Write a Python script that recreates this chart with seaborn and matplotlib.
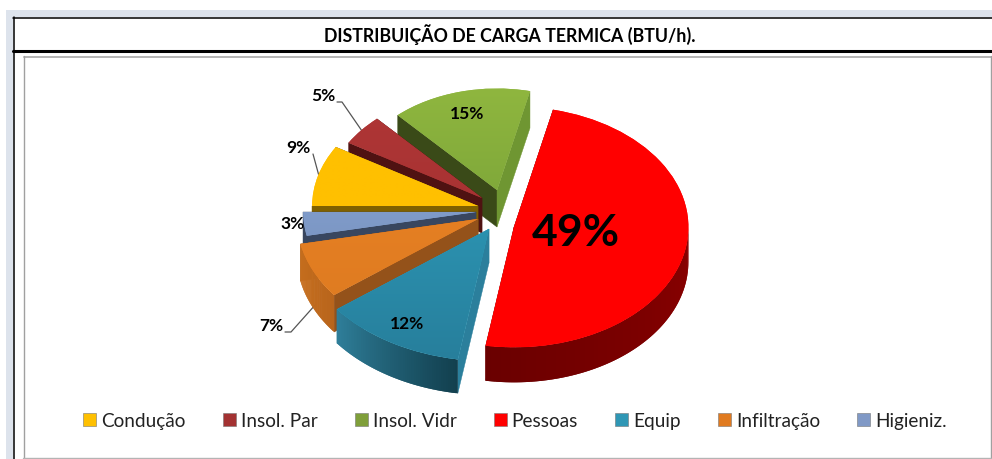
import numpy as np
import matplotlib
matplotlib.use("Agg")
import matplotlib.pyplot as plt
import seaborn as sns
from matplotlib.colors import to_rgb
from matplotlib.patches import Patch, Rectangle
from matplotlib.transforms import Affine2D

# ---- data ----
categories = ["Condução", "Insol. Par", "Insol. Vidr", "Pessoas", "Equip", "Infiltração", "Higieniz."]
percent = [8.6, 4.6, 15.4, 49.0, 12.0, 7.2, 3.2]
title = "DISTRIBUIÇÃO DE CARGA TERMICA (BTU/h)."

# ---- style ----
face_top = ["#ffc000", "#b03636", "#8fb63f", "#ff0000", "#2fa3c2", "#ee8426", "#8fadde"]
face_bot = ["#ffc000", "#a03030", "#729c35", "#ff0000", "#277f9c", "#dc7a20", "#7089b4"]
legend_col = ["#ffc000", "#a33232", "#7f9f3a", "#ff0000", "#2f97b5", "#e07a20", "#8099c6"]
wall_rad = ["#7f6000", "#4f1212", "#3a4a18", "#700000", "#2b7f9c", "#94521a", "#38465f"]
wall_rad_r = ["#7f6000", "#4f1212", "#6f9632", "#700000", "#2b7f9c", "#94521a", "#38465f"]
# arc wall shade: colours at the slice's first and last clockwise angle
arc_a = ["#7f6000", "#5a1515", "#5a7a28", "#8a0000", "#123f4e", "#b8651c", "#38465f"]
arc_b = ["#7f6000", "#5a1515", "#5a7a28", "#6a0000", "#2f7f9a", "#c9701e", "#38465f"]
apex_x = [478, 482, 497, 514, 489, 478, 476]
apex_y = [207, 199, 191, 228, 230, 220, 213]
scale = [0.97, 0.91, 0.86, 1.02, 1.12, 1.06, 1.01]
depth = [36, 35, 37, 35, 34, 37, 36]
draw_order = [2, 1, 0, 6, 5, 3, 4]
RX, RY = 171, 118

sns.set_theme(style="white")
plt.rcParams["font.family"] = ["Lato", "DejaVu Sans"]

fig = plt.figure(figsize=(9.92, 4.6), dpi=100, facecolor="white")
ax = fig.add_axes([0, 0, 1, 1])

wedges, _ = ax.pie(percent, startangle=180, counterclock=False, colors=sns.color_palette(face_top))
ax.set(xlim=(0, 992), ylim=(460, 0), aspect="auto")
ax.set_axis_off()


def pt(i, ang):
    a = np.deg2rad(ang)
    return (apex_x[i] + RX * scale[i] * np.cos(a), apex_y[i] - RY * scale[i] * np.sin(a))


for z, i in enumerate(draw_order):
    w = wedges[i]
    zb = 10 + z * 3
    d = depth[i]
    a_lo, a_hi = w.theta1, w.theta2
    # radial walls
    for ang, col in ((a_hi, wall_rad[i]), (a_lo, wall_rad_r[i])):
        x, y = pt(i, ang)
        ax.fill([apex_x[i], x, x, apex_x[i]],
                [apex_y[i], y, y + d, apex_y[i] + d],
                color=col, lw=0.3, zorder=zb)
    # outer wall: only the front-facing part of the arc, as overlapping strips
    if a_lo < 0:
        n = 60
        angs = np.linspace(min(a_hi, 0), a_lo, n + 1)
        ca, cb = np.array(to_rgb(arc_a[i])), np.array(to_rgb(arc_b[i]))
        for k in range(n):
            x0, y0 = pt(i, angs[k])
            x1, y1 = pt(i, angs[min(k + 2, n)])
            t = (k + 0.5) / n
            c = ca * (1 - t) + cb * t
            ax.fill([x0, x1, x1, x0], [y0, y1, y1 + d, y0 + d], color=c, lw=0, zorder=zb + 1)
    # top face
    w.set_transform(Affine2D().scale(RX * scale[i], -RY * scale[i])
                    .translate(apex_x[i], apex_y[i]) + ax.transData)
    w.set_zorder(zb + 2)
    w.set_edgecolor("none")
    c0, c1 = np.array(to_rgb(face_top[i])), np.array(to_rgb(face_bot[i]))
    grad = np.linspace(0, 1, 64)[:, None, None] * (c1 - c0) + c0
    ext = (apex_x[i] - RX * 1.2, apex_x[i] + RX * 1.2,
           apex_y[i] + RY * scale[i], apex_y[i] - RY * scale[i])
    im = ax.imshow(grad, extent=ext, aspect="auto", interpolation="bilinear", zorder=zb + 2.5)
    im.set_clip_path(w)

ax.set(xlim=(0, 992), ylim=(460, 0))

# ---- value labels ----
lab_x = [298, 323, 467, 576, 407, 271, 293]
lab_y = [148, 96, 114, 233, 324, 326, 224]
lab_size = [12.5, 12.5, 12.5, 32, 12.5, 12.5, 12.5]
for i, p in enumerate(percent):
    ax.text(lab_x[i], lab_y[i], f"{round(p)}%", ha="center", va="center", fontsize=lab_size[i],
            fontweight="bold", color="black", zorder=60)

# ---- leader lines ----
lead_x = [[313, 313, 319], [337, 342, 362], [285, 291, 316]]
lead_y = [[155, 155, 177], [103, 103, 132], [333, 333, 305]]
for xs, ys in zip(lead_x, lead_y):
    ax.plot(xs, ys, color="#555555", lw=0.9, zorder=9)

# ---- page frame ----
ax.add_patch(Rectangle((6, 11), 986, 7, color="#dde3ec", lw=0, zorder=1))
ax.add_patch(Rectangle((6, 11), 7, 449, color="#dde3ec", lw=0, zorder=1))
ax.plot([13, 992], [18.5, 18.5], color="black", lw=1.1, zorder=2)
ax.plot([13.5, 13.5], [18, 460], color="black", lw=1.1, zorder=2)
ax.plot([13, 992], [52, 52], color="black", lw=2.2, zorder=2)
ax.plot([23.5, 991], [57.5, 57.5], color="#b4b4b4", lw=1.4, zorder=2)
ax.plot([23.5, 23.5], [57, 459], color="#a0a0a0", lw=1.0, zorder=2)
ax.plot([991, 991], [57, 459], color="#a0a0a0", lw=1.0, zorder=2)
ax.plot([23, 991], [459, 459], color="#b4b4b4", lw=1.0, zorder=2)

ax.text(510, 35, title, ha="center", va="center", fontsize=12.8, fontweight="bold",
        family=["Lato", "DejaVu Sans"], color="black", zorder=5)

# ---- legend ----
handles = [Patch(facecolor=c, edgecolor="#777777", lw=0.4) for c in legend_col]
ax.legend(handles, categories, ncol=7, loc="center", bbox_to_anchor=(515, 422),
          bbox_transform=ax.transData, frameon=False, fontsize=13.7,
          handlelength=0.68, handleheight=0.68, handletextpad=0.27, columnspacing=1.95,
          labelcolor="#222222", borderpad=0, borderaxespad=0)

fig.savefig("out.png", dpi=100, facecolor="white")
